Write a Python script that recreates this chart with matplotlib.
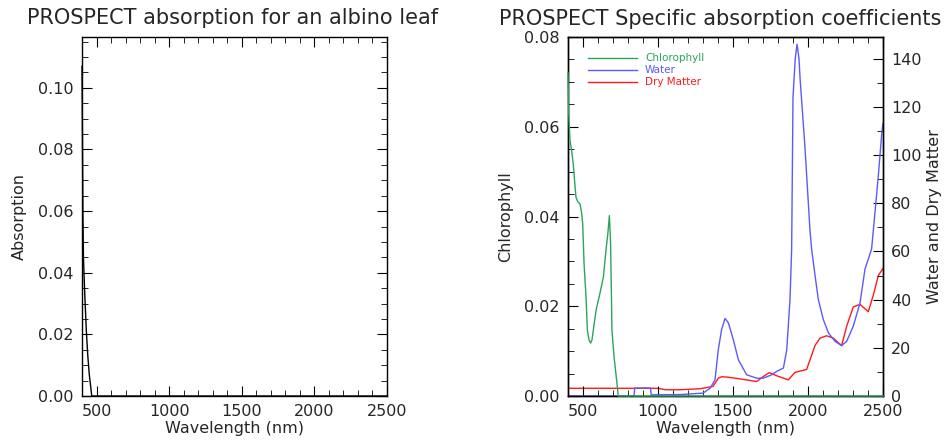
import matplotlib
matplotlib.use("Agg")
import matplotlib.pyplot as plt
from matplotlib.ticker import MultipleLocator, FormatStrFormatter

# ---------------- data ----------------
albino_wl = [400, 403, 406, 410, 415, 420, 430, 440, 450, 460, 467, 480, 2500]
albino_abs = [0.107, 0.085, 0.060, 0.045, 0.038, 0.032, 0.021, 0.013, 0.007, 0.003, 0.0, 0.0, 0.0]

chl_wl = [400, 405, 413, 425, 435, 445, 453, 465, 480, 490, 498, 507, 520, 529, 540, 551, 560,
          569, 587, 613, 636, 653, 665, 676, 684, 693, 707, 724, 735, 750, 2500]
chl_val = [0.072, 0.063, 0.057, 0.0545, 0.0517, 0.0475, 0.0443, 0.0433, 0.0428, 0.041,
           0.0384, 0.0295, 0.0221, 0.0147, 0.0125, 0.0118, 0.0125, 0.0147, 0.0191, 0.0229,
           0.0265, 0.0324, 0.036, 0.0402, 0.034, 0.0147, 0.0087, 0.0036, 0.0, 0.0, 0.0]

water_wl = [400, 840, 845, 950, 955, 1150, 1300, 1347, 1380, 1402, 1424, 1447, 1469, 1502,
            1536, 1591, 1658, 1702, 1758, 1791, 1836, 1858, 1880, 1891, 1900, 1915, 1927,
            1940, 1947, 1980, 2013, 2024, 2047, 2069, 2102, 2136, 2180, 2224, 2258, 2302,
            2347, 2380, 2424, 2467, 2493, 2500]
water_val = [0, 0, 3.3, 3.3, 0.5, 0.6, 1.2, 3.2, 6.7, 19.2, 27.6, 32.2, 30.4, 23.4,
             15, 8.8, 7.4, 7.4, 8.8, 10.2, 11.6, 19, 40, 61, 124, 140, 146,
             140, 132, 103, 69, 61, 50, 40, 31.8, 26.2, 22.7, 20.9, 22.7, 29,
             38.7, 52.7, 61, 90, 110, 113]

dm_wl = [400, 1000, 1050, 1147, 1280, 1367, 1402, 1425, 1469, 1558, 1658, 1700, 1742, 1791,
         1869, 1913, 1991, 2047, 2080, 2124, 2169, 2224, 2258, 2302, 2347, 2402, 2436, 2469, 2500]
dm_val = [3.2, 3.2, 2.6, 2.6, 3.0, 4, 7.4, 8.0, 7.8, 7.0, 6, 8, 9.7, 8.4,
          6.7, 9.8, 11, 21, 24, 25, 24, 20.9, 29, 37, 38, 35, 42, 50, 53]

x_ticks = [500, 1000, 1500, 2000, 2500]
series_names = ["Chlorophyll", "Water", "Dry Matter"]

C_GREEN = "#2aa55c"
C_BLUE = "#5a5aff"
C_RED = "#ff1a1a"
TXT = "#262626"

plt.rcParams["font.family"] = ["DejaVu Sans"]
plt.rcParams["axes.linewidth"] = 1.0

fig = plt.figure(figsize=(9.46, 4.43), dpi=100)
W, H = 946.0, 443.0


def rect(x0, x1, ytop, ybot):
    return [x0 / W, 1 - ybot / H, (x1 - x0) / W, (ybot - ytop) / H]


def style_x(ax):
    ax.set_xlim(400, 2500)
    ax.set_xticks(x_ticks)
    ax.xaxis.set_minor_locator(MultipleLocator(100))
    ax.tick_params(axis="x", which="both", direction="in", top=True, labelsize=11.5,
                   colors="black", labelcolor=TXT, pad=6)
    ax.tick_params(axis="x", which="major", length=7)
    ax.tick_params(axis="x", which="minor", length=4)
    ax.set_xlabel("Wavelength (nm)", fontsize=11.5, color=TXT, labelpad=1)


# ---------------- left panel ----------------
ax1 = fig.add_axes(rect(82, 387, 37, 396))
ax1.plot(albino_wl, albino_abs, color="black", lw=1.0, clip_on=False, zorder=3)
style_x(ax1)
ax1.set_ylim(0, 0.1165)
ax1.yaxis.set_major_locator(MultipleLocator(0.02))
ax1.yaxis.set_minor_locator(MultipleLocator(0.005))
ax1.yaxis.set_major_formatter(FormatStrFormatter("%.2f"))
ax1.tick_params(axis="y", which="both", direction="in", right=True, labelsize=11.5,
                labelcolor=TXT, pad=6)
ax1.tick_params(axis="y", which="major", length=7)
ax1.tick_params(axis="y", which="minor", length=4)
ax1.set_ylabel("Absorption", fontsize=11.5, color=TXT, labelpad=8)
ax1.set_title("PROSPECT absorption for an albino leaf", fontsize=15, color=TXT, pad=9,
              x=0.4934)

# ---------------- right panel ----------------
axw = fig.add_axes(rect(568, 883, 37, 396))
axc = axw.twinx()
axw.yaxis.tick_right()
axw.yaxis.set_label_position("right")
axc.yaxis.tick_left()
axc.yaxis.set_label_position("left")

lw_, = axw.plot(water_wl, water_val, color=C_BLUE, lw=1.0, zorder=2)
ld_, = axw.plot(dm_wl, dm_val, color=C_RED, lw=1.0, zorder=1.5)
lc_, = axc.plot(chl_wl, chl_val, color=C_GREEN, lw=1.0, zorder=3, clip_on=False)

style_x(axw)
axc.tick_params(axis="x", which="both", bottom=False, top=False, labelbottom=False)
axw.set_ylim(0, 149)
axw.yaxis.set_major_locator(MultipleLocator(20))
axw.yaxis.set_minor_locator(MultipleLocator(10))
axw.tick_params(axis="y", which="both", direction="in", left=False, right=True,
                labelleft=False, labelright=True, labelsize=11.5, labelcolor=TXT, pad=6)
axw.tick_params(axis="y", which="major", length=7)
axw.tick_params(axis="y", which="minor", length=4)
axw.set_ylabel("Water and Dry Matter", fontsize=11.5, color=TXT, labelpad=4)

axc.set_ylim(0, 0.08)
axc.yaxis.set_major_locator(MultipleLocator(0.02))
axc.yaxis.set_minor_locator(MultipleLocator(0.005))
axc.yaxis.set_major_formatter(FormatStrFormatter("%.2f"))
axc.tick_params(axis="y", which="both", direction="in", left=True, right=False,
                labelleft=True, labelright=False, labelsize=11.5, labelcolor=TXT, pad=6)
axc.tick_params(axis="y", which="major", length=7)
axc.tick_params(axis="y", which="minor", length=4)
axc.set_ylabel("Chlorophyll", fontsize=11.5, color=TXT, labelpad=8)
axc.set_title("PROSPECT Specific absorption coefficients", fontsize=15, color=TXT, pad=9,
              x=0.4825)

leg = axc.legend([lc_, lw_, ld_], series_names, loc="upper left",
                 bbox_to_anchor=(0.063, 0.955), frameon=False, fontsize=7.5,
                 handlelength=4.7, handletextpad=0.8, labelspacing=0.2,
                 borderpad=0, borderaxespad=0, labelcolor="linecolor")

fig.savefig("out.png", dpi=100)
